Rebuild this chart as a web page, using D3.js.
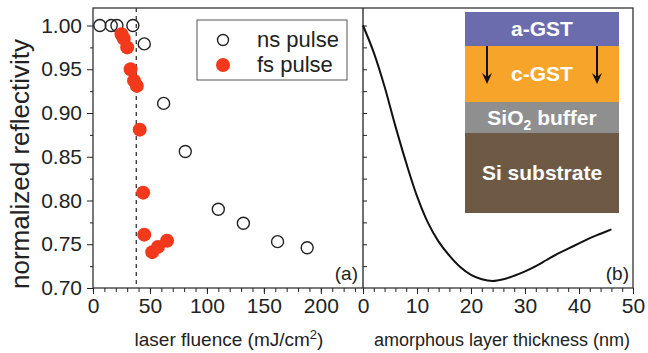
<!DOCTYPE html>
<head>
<meta charset="utf-8">
<style>
body{ margin:0; background:#fff; }
svg text{ font-family:"Liberation Sans", Arial, sans-serif; fill:#222; }
</style>
<script src="https://d3js.org/d3.v7.min.js"></script>
</head>
<body>
<svg id="chart" width="648" height="353"></svg>
<script>
// ns pulse (open circles)
var nsFluence = [6, 16, 21, 35, 45, 62, 81, 110, 132, 162, 188];
var nsRefl    = [1.000, 1.000, 1.000, 1.000, 0.979, 0.911, 0.856, 0.790, 0.774, 0.753, 0.746];
// fs pulse (filled red)
var fsFluence = [25, 27, 30, 33, 36, 38.5, 41, 44, 45, 52, 57, 65];
var fsRefl    = [0.990, 0.985, 0.975, 0.950, 0.937, 0.931, 0.881, 0.809, 0.761, 0.741, 0.747, 0.754];
var threshold = 38;
// panel (b) simulated curve
var thickness = [0,2,4,6,8,10,12,14,16,18,20,22,24,26,28,30,32,34,36,38,40,42,44,46];
var reflCurve = [1.000,0.969,0.930,0.885,0.843,0.805,0.775,0.753,0.737,0.724,0.715,0.710,
                 0.708,0.710,0.714,0.719,0.725,0.732,0.739,0.745,0.751,0.757,0.762,0.767];
var yTicks = [0.70, 0.75, 0.80, 0.85, 0.90, 0.95, 1.00];
var xTicksA = [0, 50, 100, 150, 200];
var xTicksB = [0, 10, 20, 30, 40, 50];
var layers = ["a-GST", "c-GST", "SiO2 buffer", "Si substrate"];
var layerColors = ["#6b6cad", "#f7a52a", "#8f8f8f", "#6e5a44"];

var svg = d3.select("#chart");
var plotTop = 8, plotBottom = 288, plotLeft = 93, plotMid = 363, plotRight = 633;

var y = d3.scaleLinear().domain([0.70, 1.02]).range([plotBottom, plotTop]);
var xa = d3.scaleLinear().domain([0, 237]).range([plotLeft, plotMid]);
var xb = d3.scaleLinear().domain([0, 50]).range([plotMid, plotRight]);

// frame
svg.append("rect").attr("x", plotLeft).attr("y", plotTop)
    .attr("width", plotRight - plotLeft).attr("height", plotBottom - plotTop)
    .attr("fill", "none").attr("stroke", "#333").attr("stroke-width", 1.3);
svg.append("line").attr("x1", plotMid).attr("x2", plotMid).attr("y1", plotTop).attr("y2", plotBottom)
    .attr("stroke", "#222").attr("stroke-width", 1.3);

// left y axis
var yAxis = d3.axisLeft(y).tickValues(yTicks).tickFormat(d3.format(".2f")).tickSize(6).tickPadding(5);
var gy = svg.append("g").attr("transform", "translate(" + plotLeft + ",0)").call(yAxis);
gy.select(".domain").remove();
gy.selectAll("text").style("font-size", "21px").attr("fill", "#222");
var gyMinor = svg.append("g").attr("transform", "translate(" + plotLeft + ",0)")
    .call(d3.axisLeft(y).tickValues(d3.range(0.725, 1.0, 0.05)).tickSize(3).tickFormat(""));
gyMinor.select(".domain").remove();

// panel b inward y ticks
var gyb = svg.append("g").attr("transform", "translate(" + plotMid + ",0)")
    .call(d3.axisRight(y).tickValues(d3.range(0.725, 1.01, 0.025)).tickSize(4).tickFormat(""));
gyb.select(".domain").remove();

// bottom axes
function xAxisFor(scale, major, minorStep, max) {
    var g = svg.append("g").attr("transform", "translate(0," + plotBottom + ")");
    var mn = g.append("g").call(d3.axisBottom(scale).tickValues(d3.range(0, max + 0.01, minorStep)).tickSize(4).tickFormat(""));
    mn.select(".domain").remove();
    var mj = g.append("g").call(d3.axisBottom(scale).tickValues(major).tickSize(6).tickPadding(4));
    mj.select(".domain").remove();
    mj.selectAll("text").style("font-size", "21px").attr("fill", "#222");
    return g;
}
xAxisFor(xa, xTicksA, 10, 230);
xAxisFor(xb, xTicksB, 2, 50);
svg.selectAll(".tick line").attr("stroke", "#222");

// threshold line
svg.append("line").attr("x1", xa(threshold)).attr("x2", xa(threshold)).attr("y1", plotTop).attr("y2", plotBottom)
    .attr("stroke", "#444").attr("stroke-width", 1.4).attr("stroke-dasharray", "4,4");

// ns points
svg.append("g").selectAll("circle").data(nsFluence).join("circle")
    .attr("cx", function(d){ return xa(d); })
    .attr("cy", function(d, i){ return y(nsRefl[i]); })
    .attr("r", 6).attr("fill", "none").attr("stroke", "#222").attr("stroke-width", 1.4);
// fs points
svg.append("g").selectAll("circle").data(fsFluence).join("circle")
    .attr("cx", function(d){ return xa(d); })
    .attr("cy", function(d, i){ return y(fsRefl[i]); })
    .attr("r", 7).attr("fill", "#f2391b");

// legend
svg.append("rect").attr("x", 197).attr("y", 20).attr("width", 150).attr("height", 60)
    .attr("fill", "#fff").attr("stroke", "#555").attr("stroke-width", 1);
svg.append("circle").attr("cx", 223).attr("cy", 40).attr("r", 5.5).attr("fill", "none").attr("stroke", "#222").attr("stroke-width", 1.4);
svg.append("circle").attr("cx", 223).attr("cy", 65).attr("r", 7).attr("fill", "#f2391b");
svg.append("text").attr("x", 257).attr("y", 47).style("font-size", "22px").text("ns pulse");
svg.append("text").attr("x", 257).attr("y", 72).style("font-size", "22px").text("fs pulse");

// inset layer stack
var layerY = d3.scaleOrdinal().domain(layers).range([12, 46, 102, 133]);
var layerH = [34, 56, 31, 80];
var ix = 465, iw = 154;
var ig = svg.append("g");
ig.selectAll("rect").data(layers).join("rect")
    .attr("x", ix).attr("y", function(d){ return layerY(d); })
    .attr("width", iw).attr("height", function(d, i){ return layerH[i]; })
    .attr("fill", function(d, i){ return layerColors[i]; });
var labels = ig.selectAll("text").data(layers).join("text")
    .attr("x", ix + iw / 2)
    .attr("y", function(d, i){ return layerY(d) + layerH[i] / 2 + 7; })
    .attr("text-anchor", "middle").style("font-size", "21px").style("font-weight", "bold")
    .style("fill", "#fff");
labels.each(function(d){
    var t = d3.select(this);
    if (d === "SiO2 buffer") {
        t.append("tspan").text("SiO");
        t.append("tspan").attr("dy", 5).style("font-size", "14px").text("2");
        t.append("tspan").attr("dy", -5).text(" buffer");
    } else {
        t.text(d);
    }
});
[487, 597].forEach(function(ax){
    ig.append("line").attr("x1", ax).attr("x2", ax).attr("y1", 46).attr("y2", 80)
        .attr("stroke", "#111").attr("stroke-width", 2);
    ig.append("path").attr("d", "M" + (ax - 5) + ",73 L" + ax + ",84 L" + (ax + 5) + ",73 L" + ax + ",77 Z")
        .attr("fill", "#111");
});

// panel b curve
svg.append("path").datum(thickness)
    .attr("d", d3.line().x(function(d){ return xb(d); }).y(function(d, i){ return y(reflCurve[i]); }).curve(d3.curveCatmullRom))
    .attr("fill", "none").attr("stroke", "#111").attr("stroke-width", 2);

// panel labels
svg.append("text").attr("x", 358).attr("y", 280).attr("text-anchor", "end").style("font-size", "19px").text("(a)");
svg.append("text").attr("x", 629).attr("y", 280).attr("text-anchor", "end").style("font-size", "19px").text("(b)");

// axis titles
var xt = svg.append("text").attr("x", 229).attr("y", 346).attr("text-anchor", "middle").style("font-size", "19px");
xt.append("tspan").text("laser fluence (mJ/cm");
xt.append("tspan").attr("dy", -7).style("font-size", "13px").text("2");
xt.append("tspan").attr("dy", 7).text(")");
svg.append("text").attr("x", 502).attr("y", 346).attr("text-anchor", "middle").style("font-size", "18px")
    .text("amorphous layer thickness (nm)");
svg.append("text").attr("transform", "translate(29,164) rotate(-90)").attr("text-anchor", "middle")
    .style("font-size", "26px").text("normalized reflectivity");
</script>
</body>
